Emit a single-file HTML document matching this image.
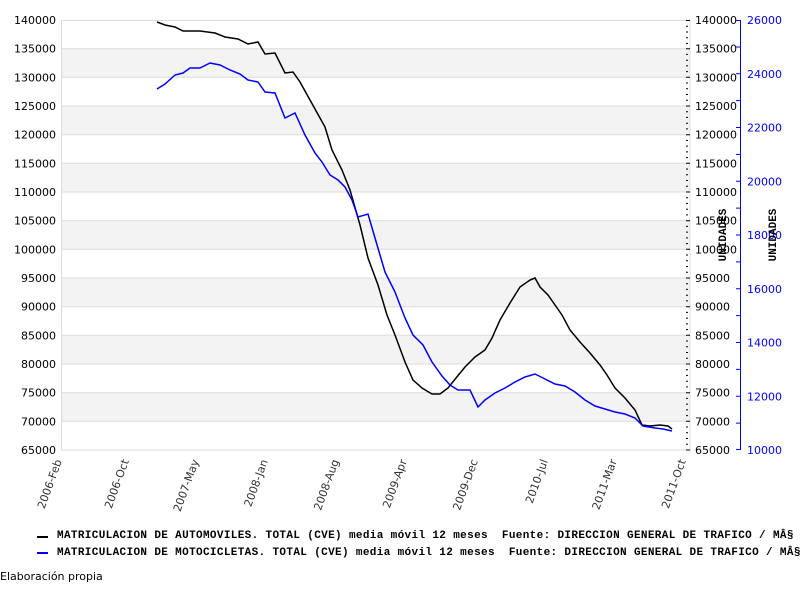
<!DOCTYPE html>
<html><head><meta charset="utf-8"><style>
body{margin:0;background:#fff;width:800px;height:600px;overflow:hidden}
svg text{font-family:"DejaVu Sans","Liberation Sans",sans-serif}
</style></head><body>
<svg width="800" height="600" viewBox="0 0 800 600" xmlns="http://www.w3.org/2000/svg">
<g fill="#f3f3f3">
<rect x="61" y="48.7" width="629" height="28.7"/>
<rect x="61" y="106" width="629" height="28.7"/>
<rect x="61" y="163.3" width="629" height="28.7"/>
<rect x="61" y="220.7" width="629" height="28.7"/>
<rect x="61" y="278" width="629" height="28.7"/>
<rect x="61" y="335.3" width="629" height="28.7"/>
<rect x="61" y="392.7" width="629" height="28.7"/>
</g>
<g stroke="#dcdcdc" stroke-width="1">
<line x1="61" x2="690" y1="48.7" y2="48.7"/><line x1="61" x2="690" y1="77.3" y2="77.3"/>
<line x1="61" x2="690" y1="106" y2="106"/><line x1="61" x2="690" y1="134.7" y2="134.7"/>
<line x1="61" x2="690" y1="163.3" y2="163.3"/><line x1="61" x2="690" y1="192" y2="192"/>
<line x1="61" x2="690" y1="220.7" y2="220.7"/><line x1="61" x2="690" y1="249.3" y2="249.3"/>
<line x1="61" x2="690" y1="278" y2="278"/><line x1="61" x2="690" y1="306.7" y2="306.7"/>
<line x1="61" x2="690" y1="335.3" y2="335.3"/><line x1="61" x2="690" y1="364" y2="364"/>
<line x1="61" x2="690" y1="392.7" y2="392.7"/><line x1="61" x2="690" y1="421.3" y2="421.3"/>
</g>
<rect x="61.5" y="20.5" width="628.5" height="429.5" fill="none" stroke="#dcdcdc"/>
<g font-size="11" text-anchor="end" fill="#000">
<text x="56" y="24">140000</text><text x="56" y="52.7">135000</text><text x="56" y="81.3">130000</text>
<text x="56" y="110">125000</text><text x="56" y="138.7">120000</text><text x="56" y="167.3">115000</text>
<text x="56" y="196">110000</text><text x="56" y="224.7">105000</text><text x="56" y="253.3">100000</text>
<text x="56" y="282">95000</text><text x="56" y="310.7">90000</text><text x="56" y="339.3">85000</text>
<text x="56" y="368">80000</text><text x="56" y="396.7">75000</text><text x="56" y="425.3">70000</text>
<text x="56" y="454">65000</text>
</g>
<g font-size="11" fill="#000">
<text x="695" y="24">140000</text><text x="695" y="52.7">135000</text><text x="695" y="81.3">130000</text>
<text x="695" y="110">125000</text><text x="695" y="138.7">120000</text><text x="695" y="167.3">115000</text>
<text x="695" y="196">110000</text><text x="695" y="224.7">105000</text><text x="695" y="253.3">100000</text>
<text x="695" y="282">95000</text><text x="695" y="310.7">90000</text><text x="695" y="339.3">85000</text>
<text x="695" y="368">80000</text><text x="695" y="396.7">75000</text><text x="695" y="425.3">70000</text>
<text x="695" y="454">65000</text>
</g>
<path stroke="#000" stroke-width="1" d="
M686,20.5h4M686,26.2h2M686,32h2M686,37.7h2M686,43.4h2M686,48.7h4M686,54.4h2M686,60.2h2M686,65.9h2M686,71.6h2M686,77.3h4M686,83h2M686,88.8h2M686,94.5h2M686,100.2h2M686,106h4M686,111.7h2M686,117.4h2M686,123.2h2M686,128.9h2M686,134.7h4M686,140.4h2M686,146.1h2M686,151.9h2M686,157.6h2M686,163.3h4M686,169h2M686,174.8h2M686,180.5h2M686,186.2h2M686,192h4M686,197.7h2M686,203.4h2M686,209.2h2M686,214.9h2M686,220.7h4M686,226.4h2M686,232.1h2M686,237.9h2M686,243.6h2M686,249.3h4M686,255h2M686,260.8h2M686,266.5h2M686,272.2h2M686,278h4M686,283.7h2M686,289.4h2M686,295.2h2M686,300.9h2M686,306.7h4M686,312.4h2M686,318.1h2M686,323.9h2M686,329.6h2M686,335.3h4M686,341h2M686,346.8h2M686,352.5h2M686,358.2h2M686,364h4M686,369.7h2M686,375.4h2M686,381.2h2M686,386.9h2M686,392.7h4M686,398.4h2M686,404.1h2M686,409.9h2M686,415.6h2M686,421.3h4M686,427h2M686,432.8h2M686,438.5h2M686,444.2h2M686,450h4"/>
<line x1="740.5" y1="20" x2="740.5" y2="450" stroke="#00f"/>
<path stroke="#00f" d="M736,20.5h4M736,47h4M736,73.8h4M736,100.6h4M736,127.5h4M736,154.4h4M736,181.3h4M736,208.1h4M736,235h4M736,261.9h4M736,288.8h4M736,315.6h4M736,342.5h4M736,369.4h4M736,396.3h4M736,423.1h4M736,449.5h4"/>
<g font-size="11" fill="#00f">
<text x="747" y="24">26000</text><text x="747" y="77.8">24000</text><text x="747" y="131.5">22000</text>
<text x="747" y="185.3">20000</text><text x="747" y="239">18000</text><text x="747" y="292.8">16000</text>
<text x="747" y="346.5">14000</text><text x="747" y="400.3">12000</text><text x="747" y="454">10000</text>
</g>
<text transform="translate(726,235) rotate(-90)" text-anchor="middle" font-size="11" font-weight="bold" style="font-family:'Liberation Mono',monospace">UNIDADES</text>
<text transform="translate(776,235) rotate(-90)" text-anchor="middle" font-size="11" font-weight="bold" style="font-family:'Liberation Mono',monospace">UNIDADES</text>
<g font-size="11" fill="#333" text-anchor="end">
<text transform="translate(62,461) rotate(-70)">2006-Feb</text>
<text transform="translate(129,461) rotate(-70)">2006-Oct</text>
<text transform="translate(199,461) rotate(-70)">2007-May</text>
<text transform="translate(268,461) rotate(-70)">2008-Jan</text>
<text transform="translate(339,461) rotate(-70)">2008-Aug</text>
<text transform="translate(407,461) rotate(-70)">2009-Apr</text>
<text transform="translate(478,461) rotate(-70)">2009-Dec</text>
<text transform="translate(548,461) rotate(-70)">2010-Jul</text>
<text transform="translate(617,461) rotate(-70)">2011-Mar</text>
<text transform="translate(686,461) rotate(-70)">2011-Oct</text>
</g>
<polyline fill="none" stroke="#000" stroke-width="1.5" points="157,22 165,25 175,27 183,31 200,31 215,33 225,37 238,39 248,44 258,42 265,54 275,53 285,73 293,72 300,82 310,100 320,118 325,127 332,150 342,170 350,190 360,225 368,258 378,285 387,315 395,335 405,362 413,380 422,388 432,394 440,394 448,388 456,378 465,367 475,357 485,350 492,338 500,320 510,303 520,287 530,280 535,278 540,287 548,295 555,305 562,315 570,330 580,342 590,353 600,365 607,375 615,388 625,398 635,410 642,425 650,426 660,425 668,426 672,429"/>
<polyline fill="none" stroke="#00f" stroke-width="1.5" points="157,89 165,84 175,75 183,73 190,68 200,68 210,63 220,65 230,70 240,74 248,80 258,82 265,92 275,93 285,118 295,113 305,135 315,153 322,162 330,175 338,180 345,187 352,200 358,217 368,214 375,238 385,272 395,292 405,318 413,335 423,345 432,362 442,376 450,385 458,390 470,390 478,407 485,400 495,393 505,388 515,382 525,377 535,374 545,379 555,384 565,386 575,392 585,400 595,406 605,409 615,412 625,414 635,418 643,426 655,428 663,429 672,431"/>
<line x1="37" y1="537" x2="48" y2="537" stroke="#000" stroke-width="2"/>
<line x1="37" y1="553" x2="48" y2="553" stroke="#00f" stroke-width="2"/>
<g font-size="11" font-weight="bold" fill="#000">
<text x="57" y="538" xml:space="preserve" style="font-family:'Liberation Mono',monospace;letter-spacing:0.35px;white-space:pre">MATRICULACION DE AUTOMOVILES. TOTAL (CVE) media móvil 12 meses  Fuente: DIRECCION GENERAL DE TRAFICO / MÂ§</text>
<text x="57" y="555" xml:space="preserve" style="font-family:'Liberation Mono',monospace;letter-spacing:0.35px;white-space:pre">MATRICULACION DE MOTOCICLETAS. TOTAL (CVE) media móvil 12 meses  Fuente: DIRECCION GENERAL DE TRAFICO / MÂ§</text>
</g>
<text x="0" y="580" font-size="11" fill="#000">Elaboración propia</text>
</svg>
</body></html>
